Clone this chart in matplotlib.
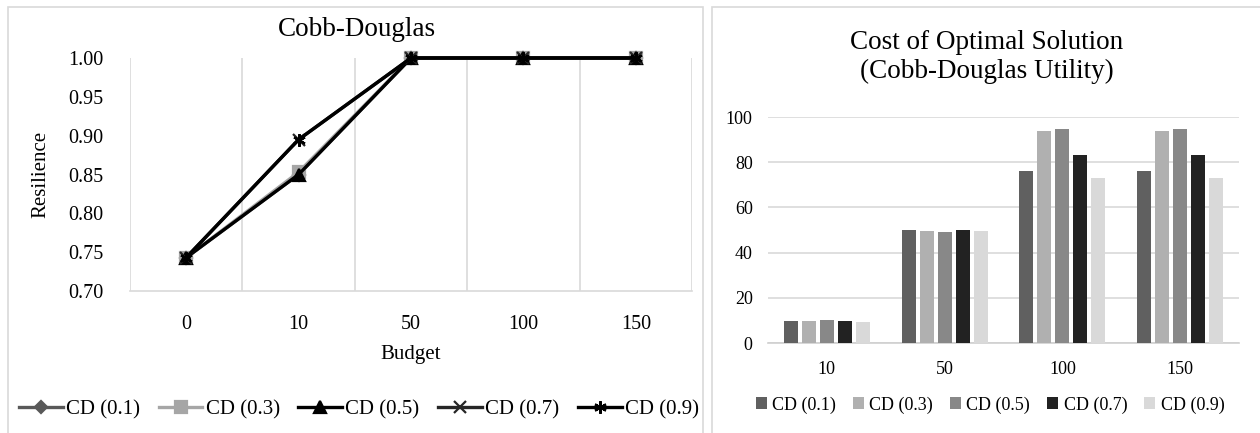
import matplotlib
matplotlib.use("Agg")
import matplotlib.pyplot as plt
from matplotlib.patches import Rectangle
import numpy as np

plt.rcParams['font.family'] = ['Liberation Serif', 'DejaVu Serif']

# left chart: resilience vs budget
budget_labels = ['0', '10', '50', '100', '150']
series_names = ['CD (0.1)', 'CD (0.3)', 'CD (0.5)', 'CD (0.7)', 'CD (0.9)']
res_cd01 = [0.743, 0.850, 1.0, 1.0, 1.0]
res_cd03 = [0.743, 0.853, 1.0, 1.0, 1.0]
res_cd05 = [0.743, 0.850, 1.0, 1.0, 1.0]
res_cd07 = [0.743, 0.895, 1.0, 1.0, 1.0]
res_cd09 = [0.743, 0.895, 1.0, 1.0, 1.0]

# right chart: cost of optimal solution
cost_labels = ['10', '50', '100', '150']
cost_cd01 = [9.6, 49.9, 76.1, 76.1]
cost_cd03 = [9.6, 49.4, 93.8, 93.8]
cost_cd05 = [10.0, 49.0, 94.8, 94.8]
cost_cd07 = [9.6, 49.9, 83.3, 83.3]
cost_cd09 = [9.1, 49.4, 73.0, 73.0]

W, H = 1260, 433
fig = plt.figure(figsize=(W / 100, H / 100), dpi=100)

def fx(px):
    return px / W

def fy(py):
    return 1 - py / H

# panel frames
for x0, x1 in [(8, 703), (712, 1262)]:
    fig.patches.append(Rectangle((fx(x0), fy(440)), fx(x1 - x0), (440 - 7) / H,
                                 transform=fig.transFigure, fill=False,
                                 edgecolor='#d9d9d9', linewidth=1.2))

grid_c = '#d9d9d9'

# ---- left: line chart
ax1 = fig.add_axes([fx(130), fy(291), fx(692 - 130), (291 - 58) / H])
x = np.arange(len(budget_labels))
line_styles = [
    (res_cd01, '#595959', 'D', 6),
    (res_cd03, '#a6a6a6', 's', 8),
    (res_cd05, '#000000', '^', 8),
    (res_cd07, '#262626', 'x', 8),
    (res_cd09, '#000000', (6, 2, 0), 9),
]
handles = []
for (vals, col, mk, ms), name in zip(line_styles, series_names):
    h, = ax1.plot(x, vals, color=col, lw=2.4, marker=mk, markersize=ms,
                  markeredgewidth=1.6, label=name, clip_on=False, zorder=3)
    handles.append(h)
ax1.set_xlim(-0.5, len(budget_labels) - 0.5)
ax1.set_ylim(0.70, 1.00)
ax1.set_yticks(np.arange(0.70, 1.001, 0.05))
ax1.set_yticklabels(['%.2f' % v for v in np.arange(0.70, 1.001, 0.05)])
ax1.set_xticks(x)
ax1.set_xticklabels(budget_labels)
for b in np.arange(-0.5, len(budget_labels), 1.0):
    ax1.axvline(b, color=grid_c, lw=1.2, zorder=0)
for s in ['top', 'right', 'left']:
    ax1.spines[s].set_visible(False)
ax1.spines['bottom'].set_color(grid_c)
ax1.spines['bottom'].set_linewidth(1.2)
ax1.tick_params(axis='both', length=0, labelsize=14.5, colors='#000000')
ax1.tick_params(axis='x', pad=17)
ax1.tick_params(axis='y', pad=19)
ax1.set_xlabel('Budget', fontsize=15, labelpad=8)
ax1.set_ylabel('Resilience', fontsize=15, labelpad=13)
fig.text(fx(357), fy(29), 'Cobb-Douglas', ha='center', va='center', fontsize=19.5)
fig.legend(handles=handles, loc='center', bbox_to_anchor=(fx(359), fy(410)),
           ncol=5, frameon=False, fontsize=15, handlelength=2.1,
           handletextpad=0.15, columnspacing=0.9, borderaxespad=0)

# ---- right: bar chart
ax2 = fig.add_axes([fx(768), fy(343), fx(1239 - 768), (343 - 117) / H])
xc = np.arange(len(cost_labels))
bar_sets = [cost_cd01, cost_cd03, cost_cd05, cost_cd07, cost_cd09]
bar_cols = ['#606060', '#b0b0b0', '#888888', '#222222', '#d9d9d9']
step = 0.153
bw = 0.119
for i, (vals, col, name) in enumerate(zip(bar_sets, bar_cols, series_names)):
    ax2.bar(xc + (i - 2) * step, vals, width=bw, color=col, label=name, zorder=3)
ax2.set_xlim(-0.5, len(cost_labels) - 0.5)
ax2.set_ylim(0, 100)
ax2.set_yticks(np.arange(0, 101, 20))
ax2.set_xticks(xc)
ax2.set_xticklabels(cost_labels)
ax2.grid(axis='y', color=grid_c, lw=1.2, zorder=0)
for s in ['top', 'right', 'left']:
    ax2.spines[s].set_visible(False)
ax2.spines['bottom'].set_color('#cfcfcf')
ax2.spines['bottom'].set_linewidth(1.2)
ax2.tick_params(axis='both', length=0, labelsize=13, colors='#000000')
ax2.tick_params(axis='x', pad=13)
ax2.tick_params(axis='y', pad=11)
fig.text(fx(987), fy(57), 'Cost of Optimal Solution\n(Cobb-Douglas Utility)',
         ha='center', va='center', fontsize=19.5, linespacing=1.25)
ax2.legend(loc='center', bbox_to_anchor=(fx(990), fy(405)),
           bbox_transform=fig.transFigure, ncol=5, frameon=False, fontsize=13,
           handlelength=0.6, handleheight=0.6, handletextpad=0.3,
           columnspacing=0.95, borderaxespad=0)

fig.savefig('out.png', dpi=100)
